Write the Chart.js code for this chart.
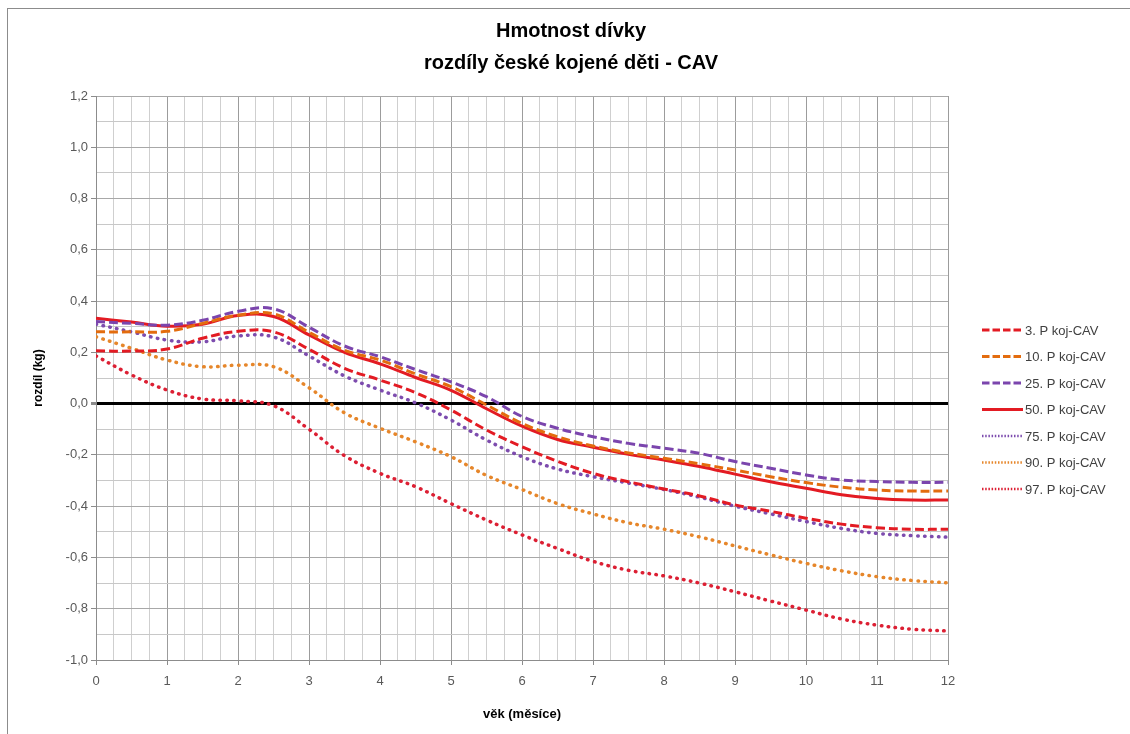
<!DOCTYPE html>
<html>
<head>
<meta charset="utf-8">
<script src="https://cdn.jsdelivr.net/npm/chart.js@4"></script>
<style>
html,body{margin:0;padding:0;background:#fff;}
#wrap{position:relative;width:1130px;height:734px;}
</style>
</head>
<body>
<div id="wrap"><canvas id="c" width="1130" height="734"></canvas></div>
<script>
// ---- data ----
const months = [0,0.5,1,1.5,2,2.5,3,3.5,4,4.5,5,5.5,6,6.5,7,7.5,8,8.5,9,9.5,10,10.5,11,11.5,12];
const seriesNames = ['3. P koj-CAV','10. P koj-CAV','25. P koj-CAV','50. P koj-CAV','75. P koj-CAV','90. P koj-CAV','97. P koj-CAV'];
const p3  = [0.206,0.205,0.213,0.255,0.282,0.280,0.212,0.138,0.092,0.043,-0.025,-0.103,-0.168,-0.225,-0.272,-0.305,-0.333,-0.360,-0.395,-0.420,-0.447,-0.470,-0.484,-0.490,-0.490];
const p10 = [0.280,0.280,0.282,0.313,0.345,0.350,0.278,0.208,0.170,0.116,0.066,-0.005,-0.077,-0.129,-0.165,-0.192,-0.213,-0.235,-0.259,-0.285,-0.308,-0.326,-0.337,-0.341,-0.341];
const p25 = [0.320,0.313,0.306,0.325,0.360,0.370,0.298,0.225,0.183,0.133,0.085,0.027,-0.050,-0.096,-0.129,-0.155,-0.174,-0.194,-0.226,-0.252,-0.278,-0.298,-0.304,-0.307,-0.307];
const p50 = [0.333,0.318,0.302,0.310,0.344,0.340,0.268,0.200,0.155,0.102,0.052,-0.020,-0.088,-0.140,-0.170,-0.198,-0.220,-0.245,-0.275,-0.305,-0.330,-0.355,-0.370,-0.376,-0.376];
const p75 = [0.310,0.280,0.248,0.241,0.264,0.260,0.186,0.108,0.053,0.003,-0.064,-0.142,-0.207,-0.255,-0.285,-0.310,-0.335,-0.365,-0.400,-0.430,-0.460,-0.487,-0.506,-0.515,-0.521];
const p90 = [0.261,0.216,0.170,0.144,0.150,0.144,0.062,-0.036,-0.096,-0.149,-0.207,-0.280,-0.335,-0.390,-0.430,-0.465,-0.490,-0.520,-0.555,-0.590,-0.623,-0.652,-0.675,-0.690,-0.699];
const p97 = [0.186,0.112,0.053,0.018,0.011,-0.008,-0.100,-0.203,-0.272,-0.324,-0.390,-0.454,-0.512,-0.565,-0.615,-0.650,-0.672,-0.700,-0.734,-0.770,-0.805,-0.840,-0.864,-0.880,-0.887];
const titleLines = ['Hmotnost dívky','rozdíly české kojené děti - CAV'];
const xTitle = 'věk (měsíce)';
const yTitle = 'rozdíl (kg)';

const allSeries = [p3,p10,p25,p50,p75,p90,p97];
const colors = ['#e31b23','#e36c0e','#7b45ad','#e31b23','#7d4cae','#e6862a','#dc1f33'];
const styles = ['dash','dash','dash','solid','dot','dot','dot'];

const DASH = [9,4], DOT = [0.5,6.5];
const datasets = allSeries.map((s,i)=>({
  label: seriesNames[i],
  data: months.map((m,j)=>({x:m,y:s[j]})),
  borderColor: colors[i],
  backgroundColor: colors[i],
  borderWidth: styles[i]==='dot'?3.5:3,
  borderDash: styles[i]==='dash'?DASH:(styles[i]==='dot'?DOT:[]),
  borderCapStyle: styles[i]==='dot'?'round':'butt',
  pointRadius: 0,
  tension: 0.4,
  fill: false,
  _style: styles[i]
}));

const frame = {
  id:'frame',
  beforeDraw(chart){
    const ctx = chart.ctx;
    ctx.save();
    ctx.fillStyle='#fff';
    ctx.fillRect(0,0,chart.width,chart.height);
    ctx.strokeStyle='#8c8c8c';
    ctx.lineWidth=1;
    ctx.strokeRect(7.5,8.5,1200,800);
    ctx.restore();
  },
  afterDraw(chart){
    const ctx = chart.ctx;
    ctx.save();
    ctx.fillStyle='#000';
    ctx.font='bold 20px "Liberation Sans", Arial, sans-serif';
    ctx.textAlign='center';
    ctx.textBaseline='middle';
    ctx.fillText(titleLines[0],571,31);
    ctx.fillText(titleLines[1],571,63);
    const x0=982, x1=1023, y0=330, dy=26.5;
    chart.data.datasets.forEach((ds,i)=>{
      const y=y0+i*dy;
      ctx.beginPath();
      ctx.strokeStyle=ds.borderColor;
      if(ds._style==='dot'){ctx.lineWidth=2.5;ctx.setLineDash([1.5,1.7]);ctx.lineCap='butt';}
      else if(ds._style==='dash'){ctx.lineWidth=3;ctx.setLineDash([7.5,3]);ctx.lineCap='butt';}
      else {ctx.lineWidth=3;ctx.setLineDash([]);ctx.lineCap='butt';}
      ctx.moveTo(x0,y);ctx.lineTo(x1,y);ctx.stroke();
      ctx.setLineDash([]);
      ctx.fillStyle='#404040';
      ctx.font='13px "Liberation Sans", Arial, sans-serif';
      ctx.textAlign='left';
      ctx.fillText(ds.label,1025,y+1);
    });
    ctx.restore();
  }
};

const isInt = v => Math.abs(v-Math.round(v))<1e-6;
const isMajorY = v => Math.abs(v*5-Math.round(v*5))<1e-6;

new Chart(document.getElementById('c'),{
  type:'line',
  data:{datasets},
  plugins:[frame],
  options:{
    responsive:false,
    animation:false,
    events:[],
    layout:{padding:{top:96,right:182,bottom:0,left:0}},
    plugins:{legend:{display:false},title:{display:false},tooltip:{enabled:false}},
    scales:{
      x:{
        type:'linear',min:0,max:12,
        afterFit(s){s.height=74;},
        ticks:{stepSize:0.25,autoSkip:false,maxRotation:0,padding:9,color:'#595959',
          font:{size:13,family:'"Liberation Sans", Arial, sans-serif'},
          callback:v=>isInt(v)?String(Math.round(v)):''},
        grid:{
          color:c=>isInt(c.tick.value)?'#9c9c9c':'#cfcfcf',
          tickColor:c=>isInt(c.tick.value)?'#8c8c8c':'rgba(0,0,0,0)',
          tickLength:5,lineWidth:1
        },
        border:{color:'#8c8c8c'},
        title:{display:true,text:xTitle,color:'#000',padding:{top:0,bottom:12},
          font:{size:13,weight:'bold',family:'"Liberation Sans", Arial, sans-serif'}}
      },
      y:{
        type:'linear',min:-1,max:1.2,
        afterFit(s){s.width=96;},
        ticks:{stepSize:0.1,autoSkip:false,padding:3,color:'#595959',
          font:{size:13,family:'"Liberation Sans", Arial, sans-serif'},
          callback:v=>isMajorY(v)?(Math.round(v*10)/10).toFixed(1).replace('.',','):''},
        grid:{
          color:c=>Math.abs(c.tick.value)<1e-6?'#000':(isMajorY(c.tick.value)?'#a8a8a8':'#c8c8c8'),
          lineWidth:c=>Math.abs(c.tick.value)<1e-6?3:1,
          tickColor:c=>isMajorY(c.tick.value)?'#8c8c8c':'rgba(0,0,0,0)',
          tickLength:5
        },
        border:{color:'#8c8c8c'},
        title:{display:true,text:yTitle,color:'#000',padding:{top:31,bottom:0},
          font:{size:12,weight:'bold',family:'"Liberation Sans", Arial, sans-serif'}}
      }
    }
  }
});
</script>
</body>
</html>
